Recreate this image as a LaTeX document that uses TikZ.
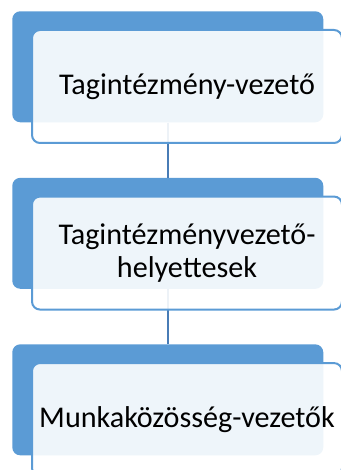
\documentclass[tikz,border=0pt]{standalone}
\usepackage{fontspec}
\setmainfont{Carlito}
\usetikzlibrary{positioning}
\definecolor{boxblue}{RGB}{91,155,213}
\definecolor{lineblue}{RGB}{72,124,182}

\begin{document}
\begin{tikzpicture}[x=0.75pt,y=-0.75pt,
  backbox/.style={fill=boxblue,rounded corners=6pt,inner sep=0pt,
    minimum width=233.25pt,minimum height=83.25pt},
  frontbox/.style={draw=boxblue,line width=1.5pt,fill=white,fill opacity=0.9,
    text opacity=1,rounded corners=6pt,minimum width=232.5pt,minimum height=84.75pt,
    align=center,font=\fontsize{22.6}{25}\selectfont},
  link/.style={draw=lineblue,line width=1.5pt}]
  \useasboundingbox (0,0) rectangle (340,470);
  % The blue boxes behind.
  \node[backbox,anchor=north west] (b1) at (12,11) {};
  \node[backbox,below=41.25pt of b1] (b2) {};
  \node[backbox,below=41.25pt of b2] (b3) {};
  % The lines between them.
  \draw[link] (b1) -- (b2);
  \draw[link] (b2) -- (b3);
  % The boxes with the titles.
  \node[frontbox,below right=13.5pt and 14.25pt of b1.north west] (f1) {Tagintézmény-vezető};
  \node[frontbox,below right=13.5pt and 14.25pt of b2.north west] (f2) {Tagintézményvezető-\\helyettesek};
  \node[frontbox,below right=13.5pt and 14.25pt of b3.north west] (f3) {Munkaközösség-vezetők};
\end{tikzpicture}
\end{document}
